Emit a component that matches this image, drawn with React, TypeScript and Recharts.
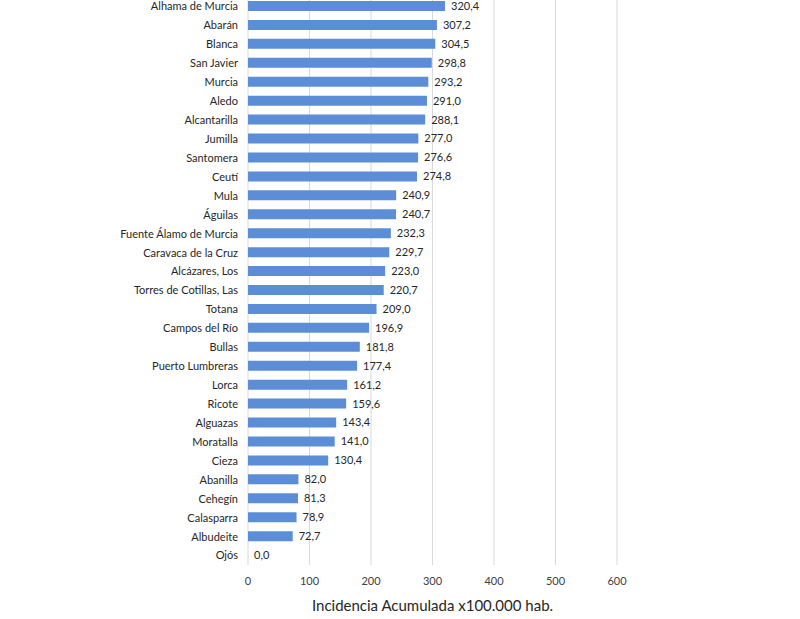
import React from 'react';
import { BarChart, Bar, XAxis, YAxis, CartesianGrid, LabelList } from 'recharts';

const municipios = [
  'Alhama de Murcia', 'Abarán', 'Blanca', 'San Javier', 'Murcia', 'Aledo', 'Alcantarilla',
  'Jumilla', 'Santomera', 'Ceutí', 'Mula', 'Águilas', 'Fuente Álamo de Murcia',
  'Caravaca de la Cruz', 'Alcázares, Los', 'Torres de Cotillas, Las', 'Totana',
  'Campos del Río', 'Bullas', 'Puerto Lumbreras', 'Lorca', 'Ricote', 'Alguazas',
  'Moratalla', 'Cieza', 'Abanilla', 'Cehegín', 'Calasparra', 'Albudeite', 'Ojós',
];

const incidencia = [
  320.4, 307.2, 304.5, 298.8, 293.2, 291.0, 288.1, 277.0, 276.6, 274.8,
  240.9, 240.7, 232.3, 229.7, 223.0, 220.7, 209.0, 196.9, 181.8, 177.4,
  161.2, 159.6, 143.4, 141.0, 130.4, 82.0, 81.3, 78.9, 72.7, 0.0,
];

const xTicks = [0, 100, 200, 300, 400, 500, 600];

const data = municipios.map((name, i) => ({ name, value: incidencia[i] }));

const font = 'Lato, "Open Sans", sans-serif';
const fmt = (v: any) => Number(v).toFixed(1).replace('.', ',');

export default function App() {
  return (
    <div style={{ position: 'absolute', left: 0, top: -3, background: '#fff' }}>
      <BarChart
        width={800}
        height={622}
        data={data}
        layout="vertical"
        margin={{ top: 0, right: 183, bottom: 0, left: 0 }}
      >
        <CartesianGrid horizontal={false} stroke="#d9d9d9" />
        <XAxis
          type="number"
          domain={[0, 600]}
          ticks={xTicks}
          axisLine={false}
          tickLine={false}
          height={54}
          tickMargin={6}
          tick={{ fill: '#404040', fontSize: 11, fontFamily: font }}
          label={{
            value: 'Incidencia Acumulada x100.000 hab.',
            position: 'insideBottom',
            offset: 8,
            fill: '#262626',
            fontSize: 15,
            fontFamily: font,
          }}
        />
        <YAxis
          type="category"
          dataKey="name"
          width={248}
          axisLine={false}
          tickLine={false}
          tickMargin={4}
          interval={0}
          tick={{ fill: '#262626', fontSize: 11, fontFamily: font }}
        />
        <Bar dataKey="value" fill="#5b8ed6" barSize={10} minPointSize={0.01} isAnimationActive={false}>
          <LabelList
            dataKey="value"
            position="right"
            offset={6}
            formatter={fmt}
            style={{ fill: '#262626', fontSize: 11, fontFamily: font }}
          />
        </Bar>
      </BarChart>
    </div>
  );
}
